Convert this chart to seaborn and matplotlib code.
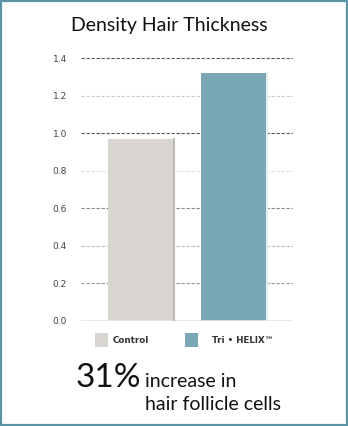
import matplotlib
matplotlib.use("Agg")
import matplotlib.pyplot as plt
import seaborn as sns
import pandas as pd
from matplotlib.patches import Rectangle

categories = ["Control", "Tri • HELIX™"]
values = [0.97, 1.32]
colors = ["#d8d5d0", "#79a7b4"]
yticks = [0.0, 0.2, 0.4, 0.6, 0.8, 1.0, 1.2, 1.4]
title = "Density Hair Thickness"

sns.set_style("white")
plt.rcParams["font.family"] = ["Lato", "DejaVu Sans"]

W, H = 348, 426
fig = plt.figure(figsize=(W / 100, H / 100), dpi=100)
fig.patch.set_facecolor("white")

def fx(px):
    return px / W

def fy(py):
    return 1 - py / H

# axes: x 81..293 px, y(0)=320.7, y(1.4)=58
ax = fig.add_axes([fx(81), fy(320.7), (293 - 81) / W, (320.7 - 58) / H])
df = pd.DataFrame({"cat": categories, "val": values})
sns.barplot(data=df, x="cat", y="val", hue="cat", palette=colors, width=0.70,
            legend=False, ax=ax, saturation=1, zorder=3, edgecolor="none")
ax.set_xlim(-0.645, 1.634)
ax.set_ylim(0, 1.4)
ax.set_xlabel("")
ax.set_ylabel("")
ax.set_xticks([])
ax.set_yticks(yticks)
ax.set_yticklabels([f"{t:.1f}" for t in yticks], fontsize=6.5, color="#444444",
                   family=["DejaVu Sans"])
ax.tick_params(axis="y", length=0, pad=10)
for s in ax.spines.values():
    s.set_visible(False)

grid_styles = {1.4: "#555555", 1.0: "#555555", 1.2: "#cccccc", 0.8: "#e0e0e0",
               0.6: "#888888", 0.4: "#bbbbbb", 0.2: "#999999"}
for t in yticks[1:]:
    ax.axhline(t, color=grid_styles[t], lw=0.8, ls=(0, (3, 1.5)), zorder=1)
ax.axhline(0, color="#e6e6e6", lw=1.2, zorder=4)

# subtle bar edges
for p, ec in zip(ax.patches, ["#bdbab5", "#e8eef0"]):
    x0 = p.get_x() + p.get_width()
    ax.plot([x0, x0], [0, p.get_height()], color=ec, lw=1.5, zorder=4)

fig.text(fx(169), fy(26), title, ha="center", va="center", fontsize=14, color="#111111")

# legend (manual, in figure pixels)
leg_sq_x = [95, 185]
leg_tx_x = [113, 212]
for c, lab, sx, tx in zip(colors, categories, leg_sq_x, leg_tx_x):
    fig.add_artist(Rectangle((fx(sx), fy(347)), 13 / W, 14 / H, transform=fig.transFigure,
                             facecolor=c, edgecolor="none"))
    fig.text(fx(tx), fy(340.5), lab, ha="left", va="center", fontsize=6.3,
             fontweight="bold", color="#333333", family=["DejaVu Sans"])

fig.text(fx(76), fy(387), "31%", ha="left", va="baseline", fontsize=24, color="#111111")
fig.text(fx(145), fy(387), "increase in", ha="left", va="baseline", fontsize=14, color="#111111")
fig.text(fx(145), fy(410), "hair follicle cells", ha="left", va="baseline", fontsize=14, color="#111111")

fig.add_artist(Rectangle((fx(1), fy(425)), 346 / W, 424 / H, transform=fig.transFigure,
                         fill=False, edgecolor="#5c94a3", lw=1.6, zorder=10))

fig.savefig("out.png", dpi=100, facecolor="white")
